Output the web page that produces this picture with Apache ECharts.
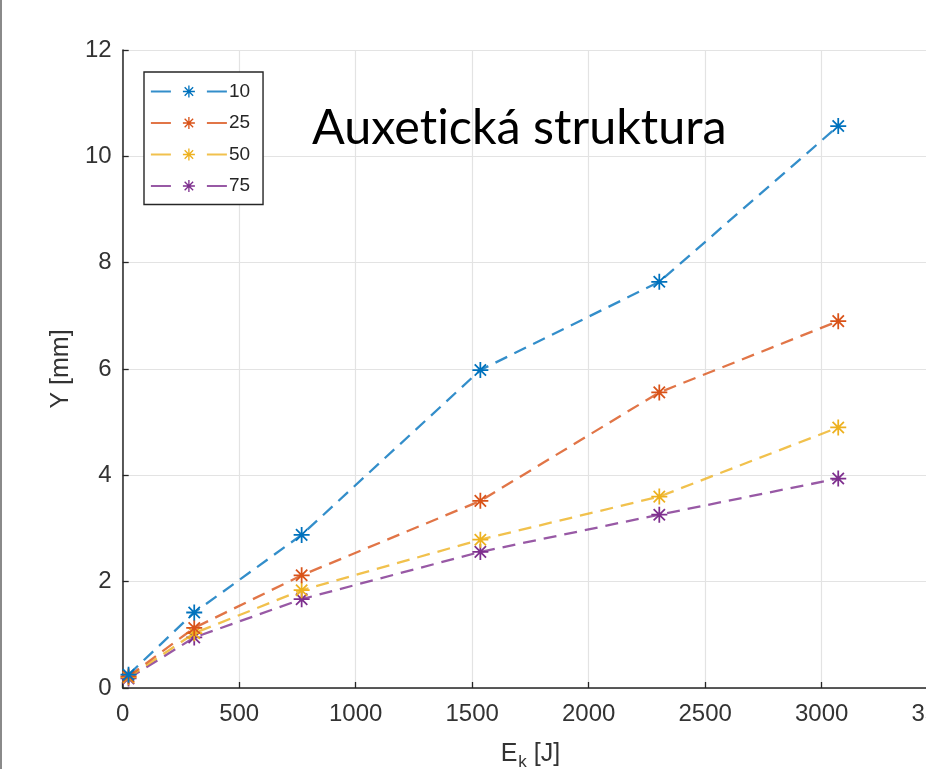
<!DOCTYPE html>
<html>
<head>
<meta charset="utf-8">
<title>Auxetická struktura</title>
<script src="https://cdn.jsdelivr.net/npm/echarts@6/dist/echarts.min.js"></script>
<style>
  html, body { margin: 0; padding: 0; background: #fff; }
  #chart { width: 926px; height: 769px; }
</style>
</head>
<body>
<div id="chart"></div>
<script>
// Impact energy E_k [J]
const energy = [25, 307, 768, 1535, 2303, 3071];

// Deflection Y [mm] per series
const seriesNames = ['10', '25', '50', '75'];
const y10 = [0.25, 1.42, 2.88, 5.98, 7.64, 10.57];
const y25 = [0.22, 1.13, 2.12, 3.52, 5.56, 6.90];
const y50 = [0.20, 1.03, 1.84, 2.79, 3.60, 4.90];
const y75 = [0.18, 0.95, 1.67, 2.56, 3.26, 3.94];

const xTicks = [0, 500, 1000, 1500, 2000, 2500, 3000, 3500];
const yTicks = [0, 2, 4, 6, 8, 10, 12];

const colors = ['#0072BD', '#D95319', '#EDB120', '#7E2F8E'];

// Asterisk marker: four thin bars at 0, 45, 90 and 135 degrees
function asteriskPath() {
  const L = 10, w = 1.1;
  let d = '';
  [0, 45, 90, 135].forEach(function (deg) {
    const a = deg * Math.PI / 180;
    const c = Math.cos(a), s = Math.sin(a);
    const pts = [[-L, -w], [L, -w], [L, w], [-L, w]].map(function (p) {
      return [(p[0] * c - p[1] * s).toFixed(3), (p[0] * s + p[1] * c).toFixed(3)];
    });
    d += 'M' + pts[0].join(' ') + 'L' + pts[1].join(' ') + 'L' + pts[2].join(' ') + 'L' + pts[3].join(' ') + 'Z';
  });
  return 'path://' + d;
}
const starSymbol = asteriskPath();

function pairs(ys) {
  return energy.map(function (x, i) { return [x, ys[i]]; });
}
const allY = [y10, y25, y50, y75];

const axisColor = '#262626';
const labelColor = '#333333';
const gridColor = '#e3e3e3';
const font = '"Liberation Sans", Arial, sans-serif';

const chart = echarts.init(document.getElementById('chart'), null, { renderer: 'canvas' });

const option = {
  backgroundColor: '#ffffff',
  animation: false,
  grid: {
    left: 122.7, top: 50, width: 815.5, height: 638,
    containLabel: false,
    outerBoundsMode: 'none'
  },
  legend: {
    data: seriesNames,
    orient: 'vertical',
    left: 144,
    top: 72,
    itemWidth: 76,
    itemHeight: 15,
    itemGap: 12.5,
    padding: [10, 13, 9, 6],
    backgroundColor: '#ffffff',
    borderColor: axisColor,
    borderWidth: 1.4,
    textStyle: { fontSize: 19, color: axisColor, fontFamily: font, padding: [0, 0, 0, -3] },
    lineStyle: { type: [20, 36], width: 1.8 }
  },
  xAxis: {
    type: 'value',
    min: xTicks[0],
    max: xTicks[xTicks.length - 1],
    interval: 500,
    name: '{e|E}{k|k}{e| [J]}',
    nameLocation: 'middle',
    nameGap: 50,
    nameTextStyle: {
      fontFamily: font,
      color: labelColor,
      rich: {
        e: { fontSize: 25, fontFamily: font, color: labelColor },
        k: { fontSize: 17, fontFamily: font, color: labelColor, padding: [16, 0, 0, 1] }
      }
    },
    axisLine: { show: true, lineStyle: { color: axisColor, width: 1.5 } },
    axisTick: { show: true, inside: true, length: 6, lineStyle: { color: axisColor, width: 1.3 } },
    axisLabel: {
      fontSize: 24, color: labelColor, fontFamily: font, margin: 14,
      showMaxLabel: true, hideOverlap: false,
      formatter: function (v) { return String(v); }
    },
    splitLine: { show: true, lineStyle: { color: gridColor, width: 1.2 } }
  },
  yAxis: {
    type: 'value',
    min: yTicks[0],
    max: yTicks[yTicks.length - 1],
    interval: 2,
    name: 'Y [mm]',
    nameLocation: 'middle',
    nameGap: 47,
    nameTextStyle: { fontSize: 25, color: labelColor, fontFamily: font },
    axisLine: { show: true, lineStyle: { color: axisColor, width: 1.5 } },
    axisTick: { show: true, inside: true, length: 6, lineStyle: { color: axisColor, width: 1.3 } },
    axisLabel: {
      fontSize: 24, color: labelColor, fontFamily: font, margin: 11,
      formatter: function (v) { return String(v); }
    },
    splitLine: { show: true, lineStyle: { color: gridColor, width: 1.2 } }
  },
  series: seriesNames.map(function (name, i) {
    return {
      name: name,
      type: 'line',
      data: pairs(allY[i]),
      symbol: starSymbol,
      symbolSize: 16,
      showAllSymbol: true,
      color: colors[i],
      itemStyle: { color: colors[i] },
      lineStyle: { color: colors[i], width: 2.3, type: [13, 8], opacity: 0.8 },
      z: 10 - i
    };
  }),
  graphic: [
    {
      type: 'text',
      left: 312,
      top: 104,
      style: {
        // ZWNJ keeps "t" and "i" as separate glyphs
        text: 'Auxet\u200Cická struktura',
        fontSize: 48.5,
        fontFamily: 'Lato, "Open Sans", sans-serif',
        fill: '#000000'
      },
      z: 20
    },
    {
      type: 'line',
      shape: { x1: 1, y1: 0, x2: 1, y2: 769 },
      style: { stroke: '#8a8a8a', lineWidth: 2 },
      z: 20
    }
  ]
};

chart.setOption(option);
</script>
</body>
</html>
